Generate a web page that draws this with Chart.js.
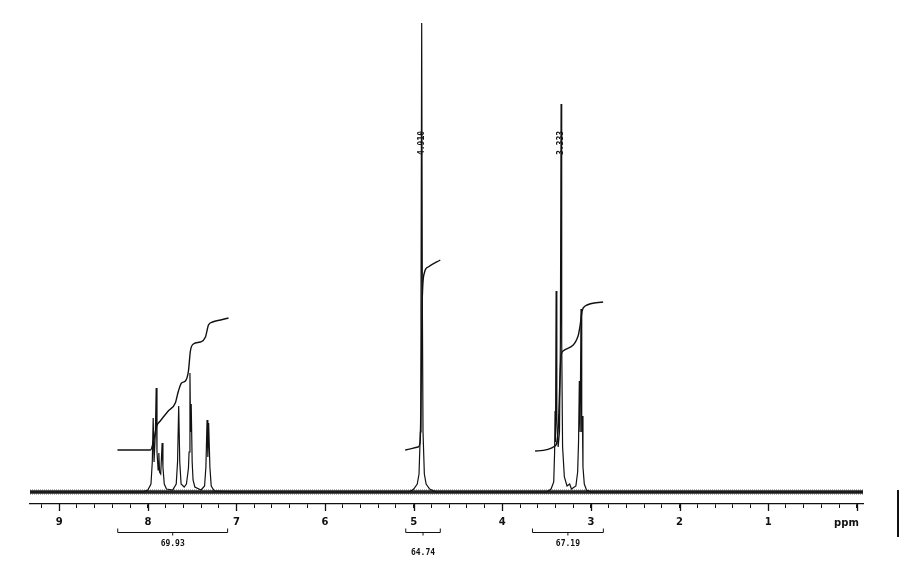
<!DOCTYPE html>
<html>
<head>
<meta charset="utf-8">
<script src="https://cdn.jsdelivr.net/npm/chart.js@4.4.1/dist/chart.umd.min.js"></script>
<style>
  body { margin: 0; background: #fff; }
</style>
</head>
<body>
<canvas id="nmrChart" width="900" height="567"></canvas>
<script>
// spectrum (ppm, height above baseline)
const specPpm = [9.33, 8.05, 8.00, 7.965, 7.95, 7.94, 7.93, 7.915, 7.906, 7.897, 7.884, 7.876, 7.868,
  7.855, 7.846, 7.839, 7.83, 7.815, 7.79, 7.72, 7.68, 7.665, 7.652, 7.64, 7.625, 7.59, 7.565, 7.55,
  7.542, 7.535, 7.525, 7.518, 7.511, 7.50, 7.49, 7.47, 7.40, 7.36, 7.345, 7.332, 7.323, 7.314, 7.30,
  7.285, 7.25, 7.0, 5.05, 5.0, 4.96, 4.94, 4.925, 4.918, 4.91, 4.902, 4.895, 4.88, 4.86, 4.82, 4.75,
  3.5, 3.45, 3.42, 3.41, 3.405, 3.40, 3.393, 3.385, 3.37, 3.355, 3.345, 3.337, 3.33, 3.32, 3.30, 3.27,
  3.24, 3.22, 3.17, 3.15, 3.14, 3.131, 3.122, 3.112, 3.104, 3.097, 3.09, 3.075, 3.05, 3.0, -0.07];
const specInt = [0, 0, 2, 8, 30, 74, 30, 60, 104, 40, 22, 39, 20,
  18, 35, 49, 25, 8, 3, 2, 8, 30, 86, 30, 8, 5, 8, 18,
  24, 40, 119, 60, 88, 30, 12, 5, 2, 6, 25, 72, 35, 69, 25,
  6, 1, 0, 0, 3, 8, 18, 60, 180, 469, 180, 60, 18, 8, 3, 0,
  0, 3, 10, 40, 81, 50, 201, 70, 45, 60, 150, 388, 150, 45, 15, 6,
  8, 3, 6, 20, 50, 111, 60, 183, 60, 76, 25, 8, 2, 0, 0];

// integral curves
const intAroPpm = [8.343, 7.97, 7.936, 7.90, 7.86, 7.77, 7.69, 7.655, 7.62, 7.576, 7.542, 7.52, 7.486, 7.407, 7.35, 7.316, 7.27, 7.18, 7.09];
const intAroVal = [42, 42, 51, 66, 71, 81, 89, 101, 109, 111, 121, 141, 148, 150, 155, 167, 170, 172, 174];
const intOhPpm = [5.096, 4.95, 4.927, 4.904, 4.88, 4.837, 4.70];
const intOhVal = [42, 45, 51, 191, 219, 225, 232];
const intMePpm = [3.63, 3.405, 3.371, 3.337, 3.315, 3.145, 3.123, 3.10, 3.066, 2.863];
const intMeVal = [41, 46, 61, 136, 141, 156, 166, 181, 186, 190];

// integral brackets under the axis
const bracketFrom = [8.34, 5.09, 3.66];
const bracketTo = [7.10, 4.70, 2.86];
const bracketText = ['69.93', '64.74', '67.19'];

// peak picks
const pickPpm = [4.91, 3.337];
const pickText = ['4.910', '3.333'];

function pts(xs, ys) {
  return xs.map(function(x, i) { return { x: x, y: ys[i] }; });
}

const ink = '#111';

const extras = {
  id: 'extras',
  afterDraw: function(chart) {
    const c = chart.ctx;
    const xs = chart.scales.x;
    const area = chart.chartArea;
    c.save();
    c.strokeStyle = ink;
    c.fillStyle = ink;

    // longer marks at whole ppm
    c.lineWidth = 1.3;
    for (let p = 0; p <= 9; p++) {
      const px = Math.round(xs.getPixelForValue(p)) + 0.5;
      c.beginPath();
      c.moveTo(px, area.bottom);
      c.lineTo(px, area.bottom + 7);
      c.stroke();
    }

    c.font = 'bold 10px "DejaVu Sans"';
    c.textAlign = 'right';
    c.textBaseline = 'middle';
    c.fillText('ppm', xs.getPixelForValue(0) + 2, area.bottom + 19);

    // integral brackets
    c.lineWidth = 1;
    c.font = 'bold 8px "DejaVu Sans Mono"';
    c.textAlign = 'center';
    for (let i = 0; i < bracketFrom.length; i++) {
      const a = xs.getPixelForValue(bracketFrom[i]);
      const b = xs.getPixelForValue(bracketTo[i]);
      const y = area.bottom + 28.5;
      const m = (a + b) / 2;
      c.beginPath();
      c.moveTo(a, y - 4); c.lineTo(a, y); c.lineTo(b, y); c.lineTo(b, y - 4);
      c.moveTo(m, y); c.lineTo(m, y + 3);
      c.stroke();
      const off = (b - a) < 50 ? 20 : 11;
      c.fillText(bracketText[i], m, y + off);
    }

    // peak values written along the lines
    for (let i = 0; i < pickPpm.length; i++) {
      const px = xs.getPixelForValue(pickPpm[i]);
      c.save();
      c.translate(px, area.top + 133);
      c.rotate(-Math.PI / 2);
      c.fillText(pickText[i], 0, 0);
      c.restore();
    }

    // scanner edge mark
    c.lineWidth = 2;
    c.beginPath();
    c.moveTo(898, 490);
    c.lineTo(898, 537);
    c.stroke();
    c.restore();
  }
};

const ctx = document.getElementById('nmrChart').getContext('2d');
new Chart(ctx, {
  type: 'line',
  data: {
    datasets: [{
      data: pts(specPpm, specInt),
      borderColor: ink,
      borderWidth: 1.2
    }, {
      data: pts(intAroPpm, intAroVal),
      borderColor: ink,
      borderWidth: 1.4,
      cubicInterpolationMode: 'monotone'
    }, {
      data: pts(intOhPpm, intOhVal),
      borderColor: ink,
      borderWidth: 1.4,
      cubicInterpolationMode: 'monotone'
    }, {
      data: pts(intMePpm, intMeVal),
      borderColor: ink,
      borderWidth: 1.4,
      cubicInterpolationMode: 'monotone'
    }, {
      // noisy baseline band
      data: pts([9.33, -0.07], [0, 0]),
      borderColor: '#222',
      borderWidth: 3.5
    }, {
      data: pts([9.33, -0.07], [0, 0]),
      borderColor: 'rgba(0,0,0,0.3)',
      borderWidth: 6,
      borderDash: [1, 1]
    }]
  },
  plugins: [extras],
  options: {
    responsive: false,
    animation: false,
    layout: { padding: { left: 30, right: 37, top: 10, bottom: 0 } },
    elements: { point: { radius: 0 }, line: { tension: 0 } },
    scales: {
      x: {
        type: 'linear',
        reverse: true,
        min: -0.07,
        max: 9.33,
        afterFit: function(scale) { scale.height = 63; },
        afterBuildTicks: function(scale) {
          // a mark every 0.2 ppm
          const t = [];
          for (let k = 0; k <= 46; k++) t.push({ value: Math.round(k * 2) / 10 });
          scale.ticks = t;
        },
        border: { display: true, color: ink, width: 1.3, dash: [8, 3] },
        grid: { drawOnChartArea: false, drawTicks: true, tickLength: 4, color: ink, lineWidth: 1 },
        ticks: {
          autoSkip: false,
          maxRotation: 0,
          padding: 8,
          color: ink,
          font: { family: 'DejaVu Sans', size: 10, weight: 'bold' },
          callback: function(v) {
            const r = Math.round(v);
            if (Math.abs(v - r) > 1e-6 || r === 0) return '';
            return String(r);
          }
        }
      },
      y: {
        display: false,
        min: -12,
        max: 482
      }
    },
    plugins: {
      legend: { display: false },
      tooltip: { enabled: false }
    }
  }
});
</script>
</body>
</html>
